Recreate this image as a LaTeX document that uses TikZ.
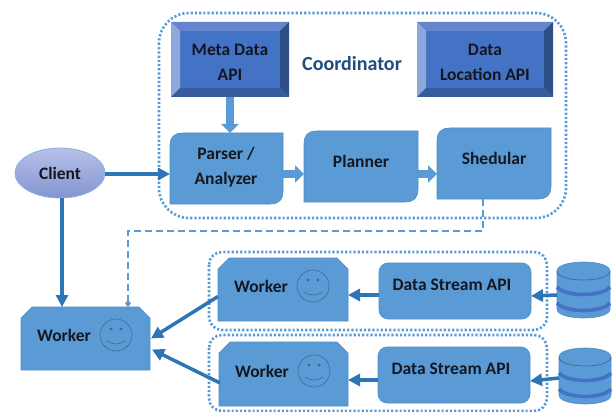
\documentclass[tikz,border=0pt]{standalone}
\usepackage{fontspec}
\setmainfont{Carlito}
\usetikzlibrary{arrows.meta,calc}
\definecolor{boxfill}{HTML}{5B9BD5}
\definecolor{boxedge}{HTML}{4F8EC6}
\definecolor{linkblue}{HTML}{2E75B6}
\definecolor{bevmid}{HTML}{4472C4}
\definecolor{bevtop}{HTML}{6585CE}
\definecolor{bevleft}{HTML}{8FA8DC}
\definecolor{bevright}{HTML}{2C4F86}
\definecolor{bevbot}{HTML}{365C9E}
\definecolor{titleblue}{HTML}{1F4E79}
\definecolor{inkdark}{HTML}{14171F}
\definecolor{clienttop}{HTML}{B7C0E8}
\definecolor{clientbot}{HTML}{8394D0}
\tikzset{
  anchorbox/.style={draw=none,fill=none,rectangle,inner sep=0pt,outer sep=0pt,minimum width=#1},
  lbl/.style={font=\fontsize{17.5}{25}\selectfont\bfseries,text=inkdark,align=center,inner sep=0pt},
  surface/.style={fill=boxfill,draw=boxedge,line width=.6pt},
  dotbox/.style={draw=boxfill,line width=2.6pt,dash pattern=on 2.2pt off 2pt},
  heavy/.style={draw=linkblue,line width=3.5pt,-{Triangle[width=12pt,length=12pt]},shorten >=0pt},
  blockarrow/.style={draw=boxfill,line width=8.5pt,-{Triangle[width=17pt,length=9pt]}},
  dashlink/.style={draw=boxfill,line width=1.5pt,dash pattern=on 7pt off 4pt},
  face/.style={circle,draw=boxedge!75!black,line width=.6pt,fill=none,minimum size=32pt,inner sep=0pt},
}
% bevel: x1 y1 x2 y2
\newcommand{\bevelbox}[4]{
  \fill[bevmid] (#1,#2) rectangle (#3,#4);
  \fill[bevtop] (#1,#2) -- (#3,#2) -- (#3-9,#2+9) -- (#1+9,#2+9) -- cycle;
  \fill[bevleft] (#1,#2) -- (#1+9,#2+9) -- (#1+9,#4-9) -- (#1,#4) -- cycle;
  \fill[bevright] (#3,#2) -- (#3-9,#2+9) -- (#3-9,#4-9) -- (#3,#4) -- cycle;
  \fill[bevbot] (#1,#4) -- (#1+9,#4-9) -- (#3-9,#4-9) -- (#3,#4) -- cycle;
}
% top-left and bottom-right rounded
\newcommand{\diagbox}[4]{
  \draw[surface] (#1,#4) -- (#1,#2+13) .. controls (#1,#2+4) and (#1+4,#2) .. (#1+13,#2)
    -- (#3,#2) -- (#3,#4-13) .. controls (#3,#4-4) and (#3-4,#4) .. (#3-13,#4) -- cycle;
}
% top corners snipped
\newcommand{\snipbox}[4]{
  \draw[surface] (#1,#4) -- (#1,#2+11) -- (#1+11,#2) -- (#3-11,#2) -- (#3,#2+11) -- (#3,#4) -- cycle;
}
\newcommand{\smileface}[2]{
  \fill[boxedge!75!black] (#1-5,#2-6) circle (1.6);
  \fill[boxedge!75!black] (#1+5,#2-6) circle (1.6);
  \draw[boxedge!75!black,line width=.6pt] (#1-9,#2+6) .. controls (#1-4,#2+10) and (#1+4,#2+10) .. (#1+9,#2+6);
}
% x1 x2 top
\newcommand{\dbcyl}[3]{
  \draw[surface] (#1,#3+9) .. controls (#1,#3-3) and (#2,#3-3) .. (#2,#3+9) -- (#2,#3+47)
    .. controls (#2,#3+59) and (#1,#3+59) .. (#1,#3+47) -- cycle;
  \draw[boxedge!70!black,line width=.6pt] (#1,#3+9) .. controls (#1,#3+21) and (#2,#3+21) .. (#2,#3+9);
  \draw[bevmid,line width=3.6pt] (#1,#3+25) .. controls (#1+8,#3+35) and (#2-8,#3+35) .. (#2,#3+25);
  \draw[bevmid,line width=3.6pt] (#1,#3+41) .. controls (#1+8,#3+51) and (#2-8,#3+51) .. (#2,#3+41);
}
\begin{document}
\begin{tikzpicture}[x=1pt,y=-1pt]
\useasboundingbox (0,0) rectangle (614,412);
\fill[white] (0,0) rectangle (614,412);
% dotted groups
\draw[dotbox,rounded corners=30pt] (159,13) rectangle (566,218);
\draw[dotbox,rounded corners=13pt] (209,252) rectangle (547,330);
\draw[dotbox,rounded corners=13pt] (209,335) rectangle (547,411);
% surfaces
\bevelbox{171}{22}{289}{97}
\bevelbox{417}{22}{553}{97}
\diagbox{170}{133}{283}{204}
\diagbox{304}{131}{418}{202}
\diagbox{437}{128}{551}{199}
\snipbox{21}{307}{150}{370}
\snipbox{218}{258}{348}{321}
\snipbox{219}{342}{348}{406}
\draw[surface,rounded corners=9pt] (379,263) rectangle (531,319);
\draw[surface,rounded corners=9pt] (378,347) rectangle (530,403);
\dbcyl{557}{610}{262}
\dbcyl{559}{611}{348}
\draw[top color=clienttop,bottom color=clientbot,draw=boxfill!75!white,line width=.8pt] (60,173) ellipse [x radius=45pt,y radius=25pt];
% named extents and labels
\node[anchorbox=118pt,minimum height=75pt] (meta) at (230,59.5) {};
\node[anchorbox=136pt,minimum height=75pt] (dataloc) at (485,59.5) {};
\node[anchorbox=113pt,minimum height=71pt] (parser) at (226.5,168.5) {};
\node[anchorbox=114pt,minimum height=71pt] (planner) at (361,166.5) {};
\node[anchorbox=114pt,minimum height=71pt] (shed) at (494,163.5) {};
\node[anchorbox=90pt,minimum height=50pt] (client) at (60,173) {};
\node[anchorbox=129pt,minimum height=63pt] (wm) at (85.5,338.5) {};
\node[anchorbox=130pt,minimum height=63pt] (wa) at (283,289.5) {};
\node[anchorbox=129pt,minimum height=64pt] (wb) at (283.5,374) {};
\node[anchorbox=152pt,minimum height=56pt] (dsa) at (455,291) {};
\node[anchorbox=152pt,minimum height=56pt] (dsb) at (454,375) {};
\node[anchorbox=53pt,minimum height=56pt] (dba) at (583.5,290) {};
\node[anchorbox=52pt,minimum height=56pt] (dbb) at (585,376) {};
\node[lbl] (tmeta) at (230,62) {Meta Data\\API};
\node[lbl] (tloc) at (485,62) {Data\\Location API};
\node[lbl] (tparser) at (226,167) {Parser /\\Analyzer};
\node[lbl] (tplanner) at (361,161) {Planner};
\node[lbl] (tshed) at (494,158) {Shedular};
\node[lbl] (tclient) at (60,173) {Client};
\node[lbl] (twm) at (64,335) {Worker};
\node[lbl] (twa) at (261,286) {Worker};
\node[lbl] (twb) at (262,371) {Worker};
\node[lbl] (tdsa) at (452,285) {Data Stream API};
\node[lbl] (tdsb) at (451,369) {Data Stream API};
\node[lbl,text=titleblue,font=\fontsize{20}{24}\selectfont\bfseries] (tcoord) at (352,64) {Coordinator};
% smileys
\node[face] (fm) at (116,335) {}; \smileface{116}{335}
\node[face] (fa) at (313,286) {}; \smileface{313}{286}
\node[face] (fb) at (314,371) {}; \smileface{314}{371}
% block arrows
\draw[blockarrow] (meta.south) -- (meta.south |- parser.north);
\draw[blockarrow] (parser.east |- 0,174) -- (planner.west |- 0,174);
\draw[blockarrow] (planner.east |- 0,174) -- (shed.west |- 0,174);
% heavy links
\draw[heavy] (client.east |- 0,174) -- (parser.west |- 0,174);
\draw[heavy] ([xshift=2pt]client.south) -- ([xshift=-23.5pt]wm.north);
\draw[heavy] ([yshift=-7pt]wa.west) -- ([xshift=1pt]wm.east);
\draw[heavy] ([yshift=-9pt,xshift=1pt]wb.west) -- ([yshift=-11pt,xshift=2pt]wm.east);
\draw[heavy] (dsa.west |- 0,295) -- (wa.east |- 0,295);
\draw[heavy] (dsb.west |- 0,380) -- (wb.east |- 0,380);
\draw[heavy] (dba.west |- 0,295) -- (dsa.east |- 0,296);
\draw[heavy] (dbb.west |- 0,378) -- (dsb.east |- 0,381);
% dashed link
\draw[dashlink] ([xshift=-11pt]shed.south) -- ++(0,32) -| ([xshift=42.5pt,yshift=5pt]wm.north);
\fill[boxfill] (128,300) -- (131,303.5) -- (128,307) -- (125,303.5) -- cycle;
\end{tikzpicture}
\end{document}
